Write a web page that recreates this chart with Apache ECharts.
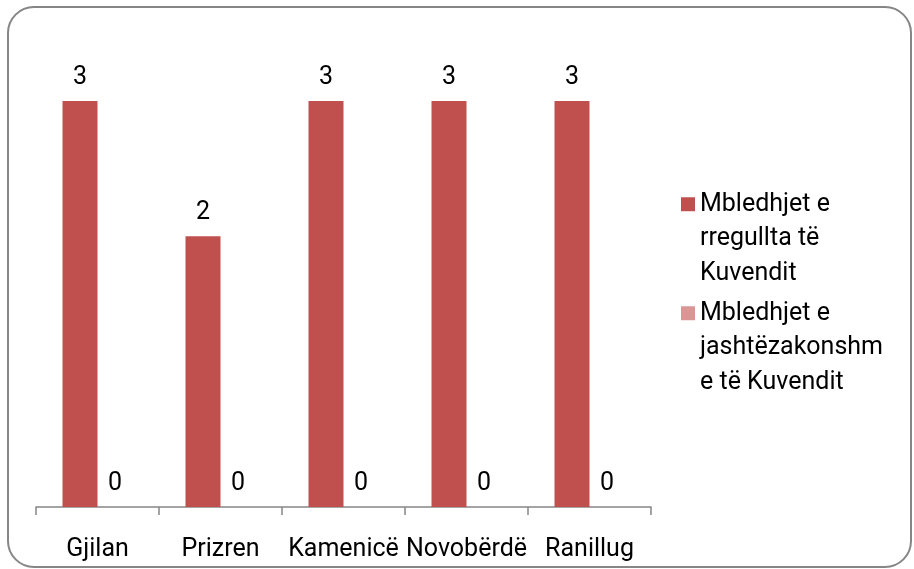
<!DOCTYPE html>
<html>
<head>
<meta charset="utf-8">
<script src="https://cdn.jsdelivr.net/npm/echarts@6/dist/echarts.min.js"></script>
<style>
html,body{margin:0;padding:0;background:#fff;}
#chart{width:914px;height:569px;}
</style>
</head>
<body>
<div id="chart"></div>
<script>
var categories = ['Gjilan', 'Prizren', 'Kamenicë', 'Novobërdë', 'Ranillug'];
var seriesNames = ['Mbledhjet e rregullta të Kuvendit', 'Mbledhjet e jashtëzakonshme të Kuvendit'];
var legendLabels = ['Mbledhjet e\nrregullta të\nKuvendit', 'Mbledhjet e\njashtëzakonshm\ne të Kuvendit'];
var regularMeetings = [3, 2, 3, 3, 3];
var extraordinaryMeetings = [0, 0, 0, 0, 0];

var FONT = 'Roboto';
var FS = 25;
var LH = 34.5;

var chart = echarts.init(document.getElementById('chart'), null, {renderer: 'canvas'});
var legendMap = {};
// two blank lines in front keep the marker level with the first text line
legendMap[seriesNames[0]] = '\n\n' + legendLabels[0];
legendMap[seriesNames[1]] = '\n\n' + legendLabels[1];

var labelCfg = {
  show: true,
  position: 'top',
  distance: 11,
  color: '#000',
  fontFamily: FONT,
  fontSize: FS
};

chart.setOption({
  animation: false,
  backgroundColor: '#fff',
  graphic: [{
    type: 'rect',
    shape: {x: 8, y: 7, width: 903, height: 560, r: 26},
    style: {fill: 'none', stroke: '#868686', lineWidth: 2},
    silent: true,
    z: 0
  }],
  grid: {left: 36, right: 263, top: 101, bottom: 62},
  legend: {
    orient: 'vertical',
    left: 681,
    top: 118,
    padding: 0,
    itemWidth: 14,
    itemHeight: 14,
    itemGap: -63.5,
    icon: 'rect',
    data: seriesNames,
    formatter: function (n) { return legendMap[n]; },
    textStyle: {
      fontFamily: FONT,
      fontSize: FS,
      lineHeight: LH,
      color: '#000'
    }
  },
  xAxis: {
    type: 'category',
    data: categories,
    boundaryGap: true,
    axisLine: {lineStyle: {color: '#868686', width: 1.5}},
    axisTick: {show: true, length: 8, lineStyle: {color: '#868686', width: 1.5}},
    axisLabel: {color: '#000', fontFamily: FONT, fontSize: FS, margin: 30, interval: 0}
  },
  yAxis: {
    type: 'value',
    min: 0,
    max: 3,
    show: false,
    splitLine: {show: false}
  },
  series: [{
    name: seriesNames[0],
    type: 'bar',
    data: regularMeetings,
    barWidth: 35,
    barGap: '0%',
    itemStyle: {color: '#C0504D'},
    label: labelCfg
  }, {
    name: seriesNames[1],
    type: 'bar',
    data: extraordinaryMeetings,
    barWidth: 35,
    barGap: '0%',
    itemStyle: {color: '#D99694'},
    label: labelCfg
  }]
});
</script>
</body>
</html>
